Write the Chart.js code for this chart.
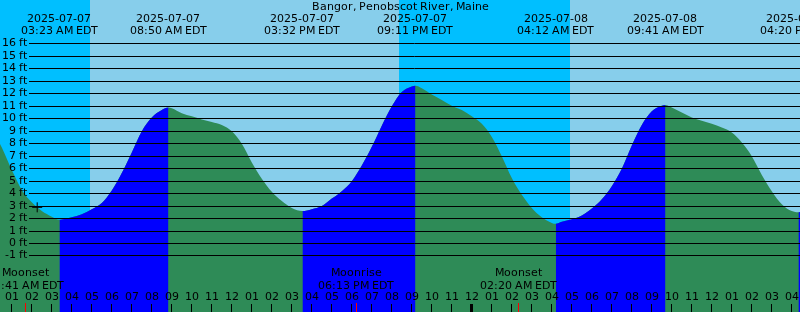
<!DOCTYPE html>
<html><head><meta charset="utf-8">
<script src="https://cdn.jsdelivr.net/npm/chart.js@4/dist/chart.umd.min.js"></script>
<style>html,body{margin:0;padding:0;background:#87CEEB;}canvas{display:block}</style>
</head><body>
<canvas id="c" width="800" height="312"></canvas>
<script>
const chartTitle = 'Bangor, Penobscot River, Maine';
// hours since 2025-07-07 00:00 EDT
const tideHours = [0.4, 0.5, 1, 1.5, 2, 2.5, 3, 3.383,
  3.5, 4, 4.5, 5, 5.5, 6, 6.5, 7, 7.5, 8, 8.5, 8.833,
  9, 9.5, 10, 10.5, 11, 11.5, 12, 12.5, 13, 13.5, 14, 14.5, 15, 15.533,
  16, 16.5, 17, 17.5, 18, 18.5, 19, 19.5, 20, 20.5, 21, 21.183,
  21.5, 22, 22.5, 23, 23.5, 24, 24.5, 25, 25.5, 26, 26.5, 27, 27.5, 28, 28.2,
  28.5, 29, 29.5, 30, 30.5, 31, 31.5, 32, 32.5, 33, 33.5, 33.683,
  34, 34.5, 35, 35.5, 36, 36.5, 37, 37.5, 38, 38.5, 39, 39.5, 40, 40.333, 40.5];
const tideFeet = [8.0, 7.7, 5.9, 4.3, 3.3, 2.6, 2.15, 1.9,
  1.92, 2.1, 2.35, 2.75, 3.25, 4.25, 5.65, 7.3, 9.0, 10.1, 10.7, 10.9,
  10.85, 10.45, 10.2, 9.95, 9.75, 9.5, 9.0, 8.0, 6.5, 5.2, 4.15, 3.4, 2.85, 2.6,
  2.75, 3.0, 3.6, 4.2, 5.0, 6.25, 7.75, 9.45, 11.0, 12.15, 12.6, 12.65,
  12.45, 11.95, 11.5, 11.05, 10.7, 10.2, 9.6, 8.55, 7.0, 5.25, 3.9, 2.85, 2.1, 1.65, 1.58,
  1.75, 1.95, 2.25, 2.8, 3.55, 4.6, 6.0, 7.85, 9.5, 10.6, 11.05, 11.1,
  10.9, 10.5, 10.1, 9.85, 9.6, 9.3, 8.9, 8.1, 7.0, 5.5, 4.2, 3.15, 2.6, 2.5, 2.55];

const eventHours = [3.383, 8.833, 15.533, 21.183, 28.2, 33.683, 40.333];
const eventDates = ['2025-07-07', '2025-07-07', '2025-07-07', '2025-07-07', '2025-07-08', '2025-07-08', '2025-07-08'];
const eventTimes = ['03:23 AM EDT', '08:50 AM EDT', '03:32 PM EDT', '09:11 PM EDT', '04:12 AM EDT', '09:41 AM EDT', '04:20 PM EDT'];

const moonHours = [1.683, 18.217, 26.333];
const moonNames = ['Moonset', 'Moonrise', 'Moonset'];
const moonTimes = ['01:41 AM EDT', '06:13 PM EDT', '02:20 AM EDT'];

const nightStarts = [0, 20.383];
const nightEnds = [4.917, 28.917];

const yTicks = [-1, 0, 1, 2, 3, 4, 5, 6, 7, 8, 9, 10, 11, 12, 13, 14, 15, 16];
const hourTicks = [1,2,3,4,5,6,7,8,9,10,11,12,13,14,15,16,17,18,19,20,21,22,23,24,25,26,27,28,29,30,31,32,33,34,35,36,37,38,39,40];
const hourLabels = ['01','02','03','04','05','06','07','08','09','10','11','12','01','02','03','04','05','06','07','08','09','10','11','12','01','02','03','04','05','06','07','08','09','10','11','12','01','02','03','04'];
const midnightHours = [24];

const markerHours = [2.27];
const markerFeet = [2.9];

const FONT = '11px "DejaVu Sans", sans-serif';
const RISE = '#0000FF', FALL = '#2E8B57', NIGHT = '#00BFFF', DAY = '#87CEEB';

// draw text with whole-pixel glyph advances (like hinted server-side rendering)
function drawText(ctx, str, x, y, align) {
  const adv = [...str].map(ch => Math.round(ctx.measureText(ch).width));
  const total = adv.reduce((s, v) => s + v, 0);
  let cx = align === 'right' ? x - total : align === 'center' ? x - total / 2 : x;
  cx = Math.round(cx);
  ctx.textAlign = 'left';
  [...str].forEach((ch, i) => { ctx.fillText(ch, cx, y); cx += adv[i]; });
}

const bgPlugin = {
  id: 'bg',
  beforeDraw(chart) {
    const {ctx, scales: {x}} = chart;
    ctx.save();
    ctx.fillStyle = DAY;
    ctx.fillRect(0, 0, chart.width, chart.height);
    ctx.fillStyle = NIGHT;
    for (let i = 0; i < nightStarts.length; i++) {
      const x0 = Math.round(Math.max(0, x.getPixelForValue(nightStarts[i])));
      const x1 = Math.round(Math.min(chart.width, x.getPixelForValue(nightEnds[i])));
      ctx.fillRect(x0, 0, x1 - x0, chart.height);
    }
    ctx.restore();
  }
};

const overlayPlugin = {
  id: 'overlay',
  afterDatasetsDraw(chart) {
    const {ctx, scales: {x, y}} = chart;
    ctx.save();
    ctx.strokeStyle = '#000';
    ctx.lineWidth = 1;
    ctx.font = FONT;
    ctx.fillStyle = '#000';
    ctx.textBaseline = 'middle';
    for (const v of yTicks) {
      const py = Math.floor(y.getPixelForValue(v)) + 0.5;
      ctx.beginPath(); ctx.moveTo(29, py); ctx.lineTo(chart.width, py); ctx.stroke();
      drawText(ctx, v + ' ft', 27, py, 'right');
    }
    drawText(ctx, chartTitle, 400, 7, 'center');
    for (let i = 0; i < eventHours.length; i++) {
      const px = x.getPixelForValue(eventHours[i]);
      drawText(ctx, eventDates[i], px, 19.5, 'center');
      drawText(ctx, eventTimes[i], px, 31.5, 'center');
    }
    for (let i = 0; i < moonHours.length; i++) {
      const px = x.getPixelForValue(moonHours[i]);
      drawText(ctx, moonNames[i], px, 273.5, 'center');
      drawText(ctx, moonTimes[i], px, 286, 'center');
    }
    for (let i = 0; i < hourTicks.length; i++) {
      const px = x.getPixelForValue(hourTicks[i]);
      drawText(ctx, hourLabels[i], px, 297.5, 'center');
      const tx = Math.floor(px) + 0.5;
      ctx.beginPath(); ctx.moveTo(tx, 304); ctx.lineTo(tx, 312); ctx.stroke();
    }
    for (const h of midnightHours) {
      const px = Math.floor(x.getPixelForValue(h));
      ctx.fillRect(px - 1, 304, 3, 8);
    }
    ctx.strokeStyle = '#FF0000';
    for (const h of moonHours) {
      const tx = Math.floor(x.getPixelForValue(h)) + 0.5;
      ctx.beginPath(); ctx.moveTo(tx, 303); ctx.lineTo(tx, 312); ctx.stroke();
    }
    ctx.restore();
  }
};

const tidePoints = tideHours.map((h, i) => ({x: h, y: tideFeet[i]}));

new Chart(document.getElementById('c'), {
  type: 'line',
  data: {
    datasets: [
      {
        type: 'scatter',
        data: markerHours.map((h, i) => ({x: h, y: markerFeet[i]})),
        pointStyle: 'cross', radius: 5, borderColor: '#000', borderWidth: 1,
        showLine: false, order: 0
      },
      {
        // rising (flood) parts, drawn over the falling fill
        data: tidePoints,
        fill: 'start',
        backgroundColor: RISE,
        borderColor: 'rgba(0,0,0,0)',
        borderWidth: 0,
        pointRadius: 0,
        cubicInterpolationMode: 'monotone',
        segment: {
          backgroundColor: c => c.p1.parsed.y > c.p0.parsed.y ? RISE : 'rgba(0,0,0,0)'
        },
        order: 1
      },
      {
        // whole tide area (ebb colour underneath)
        data: tidePoints,
        fill: 'start',
        backgroundColor: FALL,
        borderColor: 'rgba(0,0,0,0)',
        borderWidth: 0,
        pointRadius: 0,
        cubicInterpolationMode: 'monotone',
        order: 2
      }
    ]
  },
  options: {
    responsive: false,
    animation: false,
    devicePixelRatio: 1,
    layout: {padding: 0, autoPadding: false},
    plugins: {legend: {display: false}, tooltip: {enabled: false}},
    scales: {
      x: {type: 'linear', display: false, min: 0.41, max: 40.41},
      y: {type: 'linear', display: false, min: -5.493, max: 19.527}
    }
  },
  plugins: [bgPlugin, overlayPlugin]
});
</script>
</body></html>
